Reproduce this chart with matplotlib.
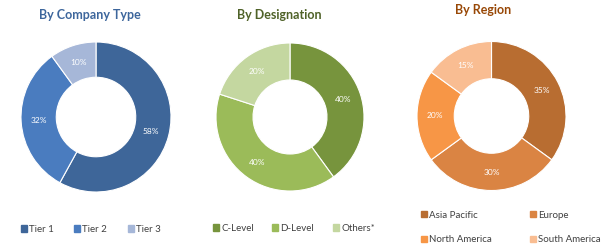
import matplotlib.pyplot as plt

# data
company_labels = ['Tier 1', 'Tier 2', 'Tier 3']
company_values = [58, 32, 10]
company_colors = ['#3E6699', '#4A7CBF', '#A6B7D8']

designation_labels = ['C-Level', 'D-Level', 'Others*']
designation_values = [40, 40, 20]
designation_colors = ['#77943D', '#9BBB59', '#C4D7A0']

region_labels = ['Asia Pacific', 'Europe', 'North America', 'South America']
region_values = [35, 30, 20, 15]
region_colors = ['#B86D31', '#DA8443', '#F79646', '#F9BD92']

plt.rcParams['font.family'] = ['Lato', 'DejaVu Sans']

W, H = 608, 252
fig = plt.figure(figsize=(W / 100, H / 100), dpi=100)


def donut(cx, cy, r, values, colors, title, title_color, title_x, title_y,
          ring=0.5):
    # cx, cy, r in pixels, cy measured from the top
    ax = fig.add_axes([(cx - r) / W, (H - cy - r) / H, 2 * r / W, 2 * r / H])
    ax.pie(values, colors=colors, startangle=90, counterclock=False,
           radius=1, autopct='%d%%', pctdistance=0.76,
           wedgeprops=dict(width=ring, edgecolor='white', linewidth=0.8),
           textprops=dict(color='white', fontsize=6))
    ax.set_xlim(-1, 1)
    ax.set_ylim(-1, 1)
    fig.text(title_x / W, 1 - title_y / H, title, color=title_color,
             fontsize=9, fontweight='bold', ha='center', va='center')
    return ax


def legend(labels, colors, xs, ys):
    # one small legend per entry so each sits where the reference has it
    for lab, col, x, y in zip(labels, colors, xs, ys):
        h = plt.Rectangle((0, 0), 1, 1, color=col)
        fig.legend([h], [lab], loc='center left',
                   bbox_to_anchor=(x / W, 1 - y / H), frameon=False,
                   fontsize=7, handlelength=0.6, handleheight=0.6,
                   handletextpad=0.25, borderpad=0, borderaxespad=0,
                   labelcolor='#404040')


ax1 = donut(96, 117, 75, company_values, company_colors,
            'By Company Type', '#3D669C', 90, 15, ring=0.47)
ax2 = donut(290, 117, 74, designation_values, designation_colors,
            'By Designation', '#4F6228', 279, 15)
ax3 = donut(491.5, 116, 74.5, region_values, region_colors,
            'By Region', '#984807', 483, 10)

legend(company_labels, company_colors, [21, 74, 128], [229.5] * 3)
legend(designation_labels, designation_colors, [213, 272, 333], [228.5] * 3)
legend(region_labels, region_colors, [421, 530, 421, 530],
       [215, 215, 240, 240])

fig.savefig('out.png', dpi=100)
